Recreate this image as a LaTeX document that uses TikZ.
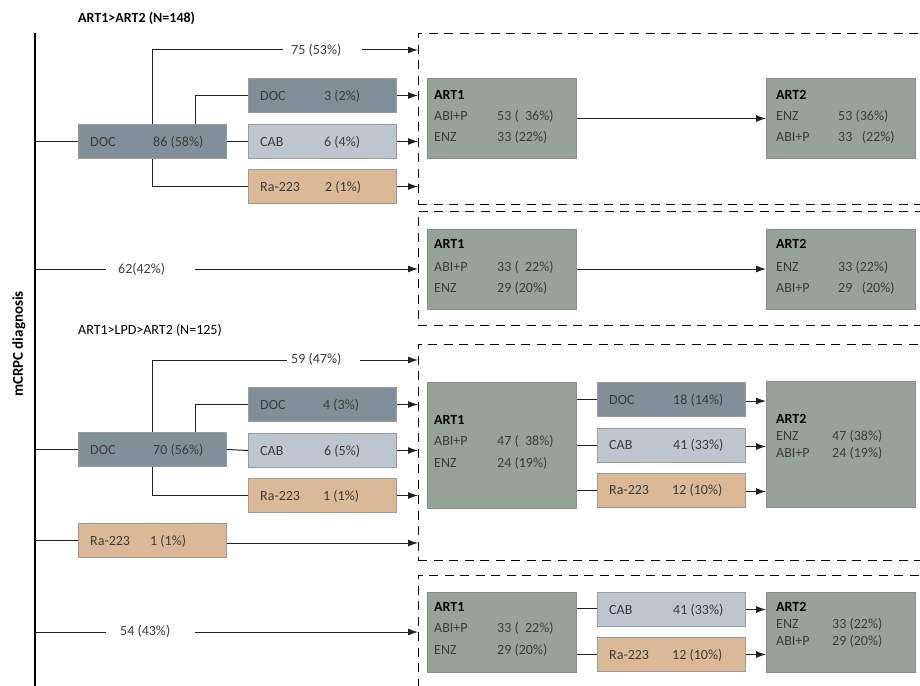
\documentclass[tikz,border=0pt]{standalone}
\usepackage{fontspec}
\setmainfont{Carlito}
\usetikzlibrary{arrows.meta,calc}
\definecolor{docc}{HTML}{808F98}
\definecolor{cabc}{HTML}{BDC5CF}
\definecolor{rac}{HTML}{DBB996}
\definecolor{artc}{HTML}{97A398}
\definecolor{txtc}{HTML}{3C3C3C}
\definecolor{bord}{HTML}{9C9C9C}
\definecolor{lnc}{HTML}{222222}
\newcommand{\tbox}[8]{%
  \node[#2] (#1) at (#3,#4) {};
  \node[txt, anchor=base west] (#1-l) at ($(#1.west)+(#7,4.6)$) {#5};
  \node[txt, anchor=base west] (#1-v) at ($(#1.west)+(#8,4.6)$) {#6};
}
\begin{document}
\begin{tikzpicture}[x=1pt,y=-1pt,
  font=\fontsize{14}{16}\selectfont,
  txt/.style={inner sep=0pt, text=txtc},
  ttl/.style={inner sep=0pt, text=black, font=\fontsize{14}{16}\selectfont\bfseries},
  box/.style={draw=bord, line width=1pt, rectangle, inner sep=0pt, anchor=north west},
  docbox/.style={box, fill=docc, minimum width=148pt, minimum height=34pt},
  cabbox/.style={box, fill=cabc, minimum width=148pt, minimum height=34pt},
  rabox/.style={box, fill=rac, minimum width=148pt, minimum height=34pt},
  artbox/.style={box, fill=artc, draw=black!45, minimum width=149pt},
  dbox/.style={draw=black, line width=0.9pt, dash pattern=on 9pt off 6.5pt, rectangle, inner sep=0pt, anchor=north west, minimum width=560pt},
  conn/.style={draw=lnc, line width=1pt},
  arr/.style={conn, -{Latex[length=10pt,width=7pt]}}
]
\useasboundingbox (0,0) rectangle (920,685);
\clip (0,0) rectangle (920,685);

% titles and axis
\node[ttl, anchor=west] (t1) at (78,18) {ART1>ART2 (N=148)};
\node[txt, text=black, anchor=west] (t2) at (78,330) {ART1>LPD>ART2 (N=125)};
\node[ttl, rotate=90, font=\fontsize{15}{17}\selectfont\bfseries] (ylab) at (19,344) {mCRPC diagnosis};
\coordinate (axtop) at (35,33);
\coordinate (axbot) at (35,690);
\draw[line width=1.7pt, black] (axtop) -- (axbot);

% dashed group frames
\node[dbox, minimum height=170.5pt] (g1) at (418,33) {};
\node[dbox, minimum height=114pt] (g2) at (418,211) {};
\node[dbox, minimum height=216.5pt] (g3) at (418,343.5) {};
\node[dbox, minimum height=140pt] (g4) at (418,574.5) {};

% ---------- Section 1 ----------
\tbox{doc1}{docbox}{78}{124}{DOC}{86 (58\%)}{12}{75}
\tbox{docs1}{docbox}{248}{78}{DOC}{3 (2\%)}{12}{76}
\tbox{cabs1}{cabbox}{248}{124}{CAB}{6 (4\%)}{12}{76}
\tbox{ras1}{rabox}{248}{169}{Ra-223}{2 (1\%)}{12}{77}
\draw[conn] (doc1.west -| axtop) -- (doc1.west);
\node[txt, anchor=west] (l75) at (291,50) {75 (53\%)};
\coordinate (l75a) at (283,50);
\coordinate (l75b) at (362,50);
\draw[conn] (doc1.north) |- (l75a);
\draw[arr] (l75b) -- (l75b -| g1.west);
\coordinate (j1) at ($(doc1.north west)+(117,0)$);
\draw[conn] (j1) |- (docs1.west);
\draw[conn] (doc1.east) -- (cabs1.west);
\draw[conn] (doc1.south) |- (ras1.west);
\draw[arr] (docs1.east) -- (docs1.east -| g1.west);
\draw[arr] (cabs1.east) -- (cabs1.east -| g1.west);
\draw[arr] (ras1.east) -- (ras1.east -| g1.west);

\node[artbox, minimum height=80pt] (a1) at (427,78) {};
\node[ttl, anchor=base west] (a1-t) at (434,99.6) {ART1};
\node[txt, anchor=base west] (a1-l1) at (434,120.3) {ABI+P};
\node[txt, anchor=base west] (a1-v1) at (497,120.3) {53 (\hspace{0.45em}36\%)};
\node[txt, anchor=base west] (a1-l2) at (434,141.6) {ENZ};
\node[txt, anchor=base west] (a1-v2) at (497,141.6) {33 (22\%)};
\node[artbox, minimum height=80pt] (b1) at (766,78) {};
\node[ttl, anchor=base west] (b1-t) at (776,99.6) {ART2};
\node[txt, anchor=base west] (b1-l1) at (776,120.3) {ENZ};
\node[txt, anchor=base west] (b1-v1) at (838,120.3) {53 (36\%)};
\node[txt, anchor=base west] (b1-l2) at (776,141.6) {ABI+P};
\node[txt, anchor=base west] (b1-v2) at (838,141.6) {33\hspace{0.45em} (22\%)};
\draw[arr] (a1.east) -- (b1.west);

% ---------- Section 2 ----------
\node[txt, anchor=west] (l62) at (118,269) {62(42\%)};
\coordinate (l62a) at (106,269);
\coordinate (l62b) at (195,269);
\draw[conn] (l62a -| axtop) -- (l62a);
\draw[arr] (l62b) -- (l62b -| g2.west);
\node[artbox, minimum height=80pt] (a2) at (427,228.5) {};
\node[ttl, anchor=base west] (a2-t) at (434,248.6) {ART1};
\node[txt, anchor=base west] (a2-l1) at (434,271.3) {ABI+P};
\node[txt, anchor=base west] (a2-v1) at (497,271.3) {33 (\hspace{0.45em}22\%)};
\node[txt, anchor=base west] (a2-l2) at (434,292.3) {ENZ};
\node[txt, anchor=base west] (a2-v2) at (497,292.3) {29 (20\%)};
\node[artbox, minimum height=80pt] (b2) at (766,228.5) {};
\node[ttl, anchor=base west] (b2-t) at (776,248.6) {ART2};
\node[txt, anchor=base west] (b2-l1) at (776,271.3) {ENZ};
\node[txt, anchor=base west] (b2-v1) at (838,271.3) {33 (22\%)};
\node[txt, anchor=base west] (b2-l2) at (776,292.3) {ABI+P};
\node[txt, anchor=base west] (b2-v2) at (838,292.3) {29\hspace{0.45em} (20\%)};
\draw[arr] (a2.east) -- (b2.west);

% ---------- Section 3 ----------
\tbox{doc3}{docbox}{78}{432}{DOC}{70 (56\%)}{12}{75}
\tbox{docs3}{docbox}{248}{387}{DOC}{4 (3\%)}{12}{75}
\tbox{cabs3}{cabbox}{248}{433}{CAB}{6 (5\%)}{12}{76}
\tbox{ras3}{rabox}{248}{478}{Ra-223}{1 (1\%)}{12}{75}
\draw[conn] (doc3.west -| axtop) -- (doc3.west);
\node[txt, anchor=west] (l59) at (291,359) {59 (47\%)};
\coordinate (l59a) at (287,360);
\coordinate (l59b) at (360,360);
\draw[conn] (doc3.north) |- (l59a);
\draw[arr] (l59b) -- (l59b -| g3.west);
\coordinate (j3) at ($(doc3.north west)+(117,0)$);
\draw[conn] (j3) |- (docs3.west);
\draw[conn] (doc3.east) -- (cabs3.west);
\draw[conn] (doc3.south) |- (ras3.west);
\draw[arr] (docs3.east) -- (docs3.east -| g3.west);
\draw[arr] (cabs3.east) -- (cabs3.east -| g3.west);
\draw[arr] (ras3.east) -- (ras3.east -| g3.west);

\tbox{rax}{rabox}{78}{523}{Ra-223}{1 (1\%)}{12}{72}
\draw[conn] (rax.west -| axtop) -- (rax.west);
\coordinate (raxo) at ($(rax.east)+(0,2.5)$);
\draw[arr] (raxo) -- (raxo -| g3.west);

\node[artbox, minimum height=126pt] (a3) at (427,381.5) {};
\node[ttl, anchor=base west] (a3-t) at (434,424.6) {ART1};
\node[txt, anchor=base west] (a3-l1) at (434,445.8) {ABI+P};
\node[txt, anchor=base west] (a3-v1) at (497,445.8) {47 (\hspace{0.45em}38\%)};
\node[txt, anchor=base west] (a3-l2) at (434,467.6) {ENZ};
\node[txt, anchor=base west] (a3-v2) at (497,467.6) {24 (19\%)};
\tbox{m3d}{docbox}{597}{382}{DOC}{18 (14\%)}{12}{76}
\tbox{m3c}{cabbox}{597}{427.5}{CAB}{41 (33\%)}{12}{76}
\tbox{m3r}{rabox}{597}{472.5}{Ra-223}{12 (10\%)}{12}{75}
\node[artbox, minimum height=126pt] (b3) at (766,381) {};
\node[ttl, anchor=base west] (b3-t) at (776,423.6) {ART2};
\node[txt, anchor=base west] (b3-l1) at (776,440.6) {ENZ};
\node[txt, anchor=base west] (b3-v1) at (832,440.6) {47 (38\%)};
\node[txt, anchor=base west] (b3-l2) at (776,457.6) {ABI+P};
\node[txt, anchor=base west] (b3-v2) at (832,457.6) {24 (19\%)};
\foreach \m in {m3d,m3c,m3r}{
  \draw[conn] (\m.west -| a3.east) -- (\m.west);
  \coordinate (\m-o) at ($(\m.east)+(0,1.5)$);
  \draw[arr] (\m-o) -- (\m-o -| b3.west);
}

% ---------- Section 4 ----------
\node[txt, anchor=west] (l54) at (120,631) {54 (43\%)};
\coordinate (l54a) at (106,632);
\coordinate (l54b) at (195,632);
\draw[conn] (l54a -| axtop) -- (l54a);
\draw[arr] (l54b) -- (l54b -| g4.west);
\node[artbox, minimum height=80pt] (a4) at (427,592) {};
\node[ttl, anchor=base west] (a4-t) at (434,611.6) {ART1};
\node[txt, anchor=base west] (a4-l1) at (434,632.6) {ABI+P};
\node[txt, anchor=base west] (a4-v1) at (497,632.6) {33 (\hspace{0.45em}22\%)};
\node[txt, anchor=base west] (a4-l2) at (434,654.6) {ENZ};
\node[txt, anchor=base west] (a4-v2) at (497,654.6) {29 (20\%)};
\tbox{m4c}{cabbox}{597}{592}{CAB}{41 (33\%)}{12}{76}
\tbox{m4r}{rabox}{597}{637}{Ra-223}{12 (10\%)}{12}{75}
\node[artbox, minimum height=80pt] (b4) at (766,592) {};
\node[ttl, anchor=base west] (b4-t) at (776,611.6) {ART2};
\node[txt, anchor=base west] (b4-l1) at (776,628.6) {ENZ};
\node[txt, anchor=base west] (b4-v1) at (832,628.6) {33 (22\%)};
\node[txt, anchor=base west] (b4-l2) at (776,645.6) {ABI+P};
\node[txt, anchor=base west] (b4-v2) at (832,645.6) {29 (20\%)};
\coordinate (m4ci) at ($(m4c.west)+(0,-1.5)$);
\draw[conn] (m4ci -| a4.east) -- (m4ci);
\draw[conn] (m4r.west -| a4.east) -- (m4r.west);
\draw[arr] (m4c.east) -- (m4c.east -| b4.west);
\draw[arr] (m4r.east) -- (m4r.east -| b4.west);
\end{tikzpicture}
\end{document}
